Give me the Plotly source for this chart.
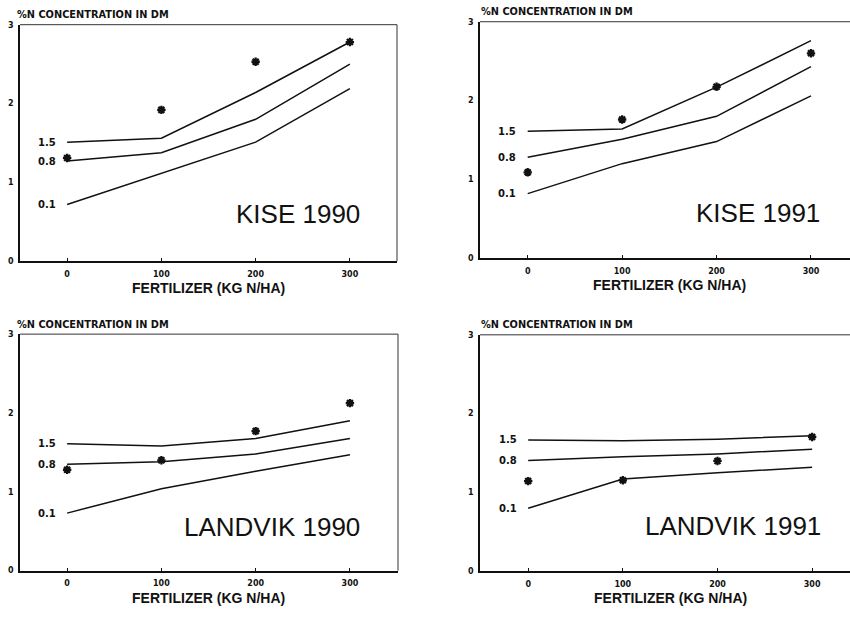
import plotly.graph_objects as go

fert = [0, 100, 200, 300]
curve_labels = ["1.5", "0.8", "0.1"]

panel_titles = ["KISE 1990", "KISE 1991", "LANDVIK 1990", "LANDVIK 1991"]

# fitted curves (upper, middle, lower) per panel
kise90_curves = [[1.51, 1.56, 2.14, 2.78], [1.27, 1.375, 1.80, 2.50], [0.72, 1.12, 1.51, 2.19]]
kise91_curves = [[1.61, 1.64, 2.17, 2.76], [1.28, 1.51, 1.80, 2.43], [0.82, 1.20, 1.48, 2.06]]
land90_curves = [[1.61, 1.58, 1.675, 1.90], [1.35, 1.38, 1.48, 1.675], [0.73, 1.04, 1.26, 1.47]]
land91_curves = [[1.667, 1.655, 1.675, 1.72], [1.405, 1.455, 1.49, 1.55], [0.80, 1.17, 1.25, 1.32]]

# observed values (asterisks)
kise90_obs = [1.31, 1.92, 2.53, 2.78]
kise91_obs = [1.09, 1.76, 2.175, 2.60]
land90_obs = [1.28, 1.40, 1.77, 2.125]
land91_obs = [1.145, 1.155, 1.40, 1.705]

y_ticks = [0, 1, 2, 3]
y_title = "%N CONCENTRATION IN DM"
x_title = "FERTILIZER (KG N/HA)"

curves = [kise90_curves, kise91_curves, land90_curves, land91_curves]
obs = [kise90_obs, kise91_obs, land90_obs, land91_obs]

xdomains = [[0.02353, 0.46706], [0.56471, 1.0], [0.02353, 0.46824], [0.56471, 1.0]]
ydomains = [[0.57903, 0.96613], [0.58387, 0.97097], [0.07258, 0.45968], [0.07145, 0.45855]]
xranges = [[-50, 350], [-50.5, 341.3], [-50, 351], [-50.9, 340]]
title_pos = [(313, 0.60), (311.7, 0.58), (313, 0.56), (311.5, 0.57)]

INK = "#111111"
fig = go.Figure()
annotations = []
shapes = []
layout = {}

for i in range(4):
    n = "" if i == 0 else str(i + 1)
    xa, ya = "x" + n, "y" + n
    for c in curves[i]:
        fig.add_trace(go.Scatter(x=fert, y=c, mode="lines", xaxis=xa, yaxis=ya,
                                 line=dict(color=INK, width=1.5), showlegend=False,
                                 hoverinfo="skip"))
    fig.add_trace(go.Scatter(x=fert, y=obs[i], mode="markers", xaxis=xa, yaxis=ya,
                             marker=dict(symbol="asterisk-open", size=7, color=INK,
                                         line=dict(color=INK, width=2.3)),
                             showlegend=False))
    right_panel = i in (1, 3)
    layout["xaxis" + n] = dict(domain=xdomains[i], range=xranges[i], anchor=ya,
                               tickvals=fert, ticktext=[str(v) for v in fert],
                               showgrid=False, zeroline=False, showline=True,
                               linecolor=INK, linewidth=1.7,
                               ticks="inside", ticklen=3, tickcolor=INK,
                               ticklabelstandoff=4,
                               tickfont=dict(family="DejaVu Sans", size=8, color=INK, weight="bold"))
    layout["yaxis" + n] = dict(domain=ydomains[i], range=[0, 3], anchor=xa,
                               tickvals=y_ticks, ticktext=[str(v) for v in y_ticks],
                               showgrid=False, zeroline=False, showline=True,
                               linecolor=INK, linewidth=1.7,
                               ticks="", ticklabelstandoff=3,
                               tickfont=dict(family="DejaVu Sans", size=8, color=INK, weight="bold"))
    # thinner top / right frame lines
    shapes.append(dict(type="line", xref=xa + " domain", yref=ya + " domain",
                       x0=0, x1=1, y0=1, y1=1, line=dict(color="#333333", width=1)))
    if not right_panel:
        shapes.append(dict(type="line", xref=xa + " domain", yref=ya + " domain",
                           x0=1, x1=1, y0=0, y1=1, line=dict(color="#333333", width=1)))
    # curve labels
    for lab, c in zip(curve_labels, curves[i]):
        annotations.append(dict(x=-10, y=c[0], xref=xa, yref=ya, text=lab, showarrow=False,
                                xanchor="right", yanchor="middle",
                                font=dict(family="DejaVu Sans", size=10, color=INK, weight="bold")))
    # panel title
    tx, ty = title_pos[i]
    annotations.append(dict(x=tx, y=ty, xref=xa, yref=ya, text=panel_titles[i], showarrow=False,
                            xanchor="right", yanchor="middle",
                            font=dict(family="Liberation Sans", size=26, color=INK)))
    # x title
    annotations.append(dict(x=150, y=0, xref=xa, yref=ya + " domain", text=x_title, showarrow=False,
                            xanchor="center", yanchor="middle", yshift=-27,
                            font=dict(family="Liberation Sans", size=14, color=INK, weight="bold")))
    # y title
    annotations.append(dict(x=0, y=1, xref=xa + " domain", yref=ya + " domain", text=y_title,
                            showarrow=False, xanchor="left", yanchor="middle",
                            xshift=-5 if not right_panel else -1, yshift=10,
                            font=dict(family="DejaVu Sans", size=9.8, color=INK, weight="bold")))

fig.update_layout(width=850, height=620, margin=dict(l=0, r=0, t=0, b=0),
                  paper_bgcolor="white", plot_bgcolor="white",
                  annotations=annotations, shapes=shapes, **layout)

fig.write_html("out.html")
